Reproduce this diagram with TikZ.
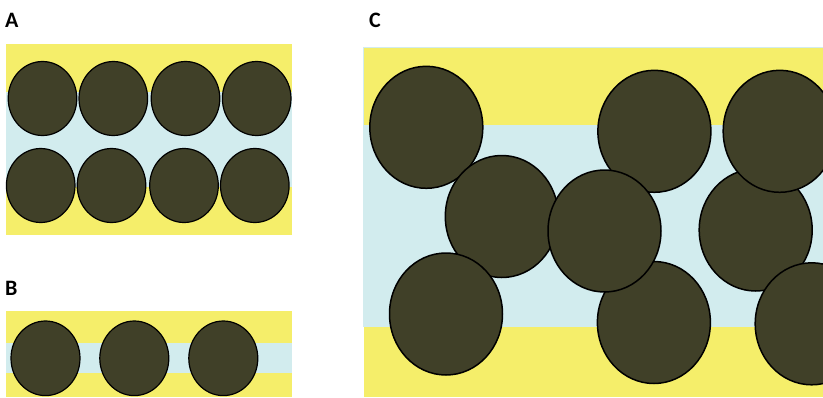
\documentclass[tikz,border=0pt]{standalone}
\usepackage{fontspec}
\setmainfont{Carlito}
\definecolor{resin}{RGB}{245,238,106}
\definecolor{gap}{RGB}{210,236,238}
\definecolor{grain}{RGB}{64,64,40}
\begin{document}
\begin{tikzpicture}[x=1pt,y=-1pt,
  grainsmall/.style={fill=grain,draw=black,line width=1.2pt},
  grainlarge/.style={fill=grain,draw=black,line width=1.5pt},
  panellabel/.style={font=\bfseries\fontsize{22}{26}\selectfont,anchor=base west,inner sep=0pt}]
\useasboundingbox (0,0) rectangle (823,397);

% panel labels
\node[panellabel] (labA) at (5,27) {A};
\node[panellabel] (labB) at (5,295) {B};
\node[panellabel] (labC) at (369,27.5) {C};

% panel A: two full rows of grains
\fill[resin] (6,44) rectangle (292,235);
\fill[gap] (6,92) rectangle (292,187);
\foreach \cx in {42.5,113.3,185.5,256.7}
  \draw[grainsmall] (\cx,98.5) ellipse [x radius=34.3pt, y radius=37pt];
\foreach \cx in {40.7,111.5,184,254.8}
  \draw[grainsmall] (\cx,185.5) ellipse [x radius=34.3pt, y radius=37pt];

% panel B: a single row across a thin layer
\fill[resin] (6,311) rectangle (292,397);
\fill[gap] (6,343) rectangle (292,373);
\foreach \cx in {45.5,134.3,223.3}
  \draw[grainsmall] (\cx,358.3) ellipse [x radius=34.5pt, y radius=37.3pt];

% panel C: larger grains, randomly packed
\fill[gap] (363,47) rectangle (823,327);
\fill[resin] (364,48.3) rectangle (823,125);
\fill[resin] (364,327) rectangle (823,397);
\foreach \cx/\cy in {426.3/127.3, 654.4/131.3, 653.9/322.5, 501.8/216.5,
                     446/314, 604.5/231, 755.7/230, 779.7/131.3, 811.7/323.8}
  \draw[grainlarge] (\cx,\cy) ellipse [x radius=56.5pt, y radius=61pt];
\end{tikzpicture}
\end{document}
